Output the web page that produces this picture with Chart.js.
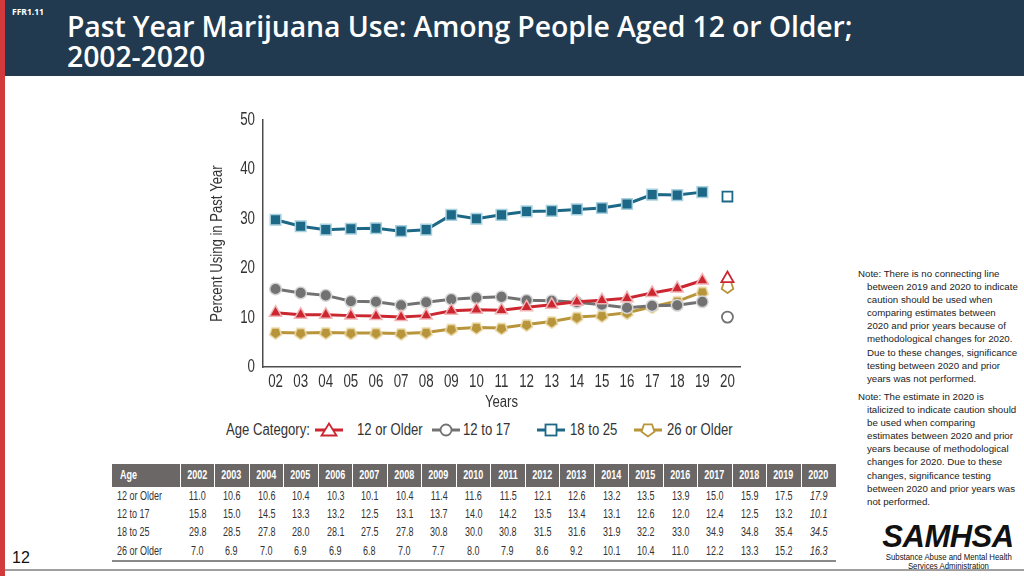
<!DOCTYPE html>
<html><head><meta charset="utf-8">
<script src="https://cdn.jsdelivr.net/npm/chart.js@4/dist/chart.umd.min.js"></script>
<style>
html,body{margin:0;padding:0;}
body{width:1024px;height:576px;position:relative;overflow:hidden;background:#fff;font-family:'Liberation Sans',Arial,sans-serif;}
#header{position:absolute;left:0;top:0;width:1024px;height:76px;background:#213a4f;}
#redbar{position:absolute;left:0;top:0;width:5px;height:576px;background:#d2393a;}
#ffr{position:absolute;left:12px;top:6px;color:#fff;font:700 8.5px 'Open Sans',sans-serif;}
#title{position:absolute;left:67px;top:11px;color:#fff;font:600 28.4px/30px 'Open Sans',sans-serif;white-space:nowrap;letter-spacing:-0.1px;}
#chartbox{position:absolute;left:200px;top:100px;width:560px;height:315px;}
.c{display:inline-block;transform:scaleX(0.82);transform-origin:left center;white-space:nowrap;}
.tc{display:inline-block;transform:scaleX(0.75);transform-origin:left center;white-space:nowrap;}
.tcc{display:inline-block;transform:scaleX(0.75);transform-origin:center center;white-space:nowrap;}
.cc{display:inline-block;transform:scaleX(0.82);transform-origin:center center;white-space:nowrap;}
#legend{position:absolute;left:0;top:420px;width:800px;height:20px;color:#333;font-size:16px;}
#legend .t{position:absolute;top:0;line-height:20px;}
#legend svg{position:absolute;top:2px;}
#tbl{position:absolute;left:112px;top:464px;border-collapse:collapse;table-layout:fixed;font-size:12px;color:#333;}
#tbl th{background:#6b6767;color:#fff;font-weight:700;height:22.5px;padding:0;text-align:center;border-left:1px solid #fff;}
#tbl th:first-child{text-align:left;padding-left:8px;border-left:none;}
#tbl td{height:18.4px;padding:0;text-align:center;}
#tbl td:first-child{text-align:left;padding-left:5px;}
#tbl td.it{font-style:italic;}
#tbl tr:last-child td{border-bottom:2px solid #8a8a8a;}
.note{position:absolute;left:858px;width:166px;font-size:9.7px;line-height:13.1px;color:#222;padding-left:9px;text-indent:-9px;white-space:nowrap;}
#pnum{position:absolute;left:12px;top:549px;font-size:16px;color:#111;}
#bline{position:absolute;left:5px;top:569px;width:1019px;height:2px;background:#a0a0a0;}
#logo{position:absolute;left:872px;top:521px;width:152px;text-align:center;color:#111;}
#logo .big{font:italic 700 31px/31px 'Liberation Sans',Arial,sans-serif;letter-spacing:-0.5px;}
#logo .sub{font-size:9.5px;line-height:9px;}
</style></head>
<body>
<div id="header"></div>
<div id="redbar"></div>
<div id="ffr">FFR1.11</div>
<div id="title">Past Year Marijuana Use: Among People Aged 12 or Older;<br>2002-2020</div>
<div id="chartbox"><canvas id="c" width="560" height="315"></canvas></div>
<div id="legend"></div>
<table id="tbl"></table>
<div class="note" style="top:267px">Note: There is no connecting line<br>between 2019 and 2020 to indicate<br>caution should be used when<br>comparing estimates between<br>2020 and prior years because of<br>methodological changes for 2020.<br>Due to these changes, significance<br>testing between 2020 and prior<br>years was not performed.</div>
<div class="note" style="top:390px">Note: The estimate in 2020 is<br>italicized to indicate caution should<br>be used when comparing<br>estimates between 2020 and prior<br>years because of methodological<br>changes for 2020. Due to these<br>changes, significance testing<br>between 2020 and prior years was<br>not performed.</div>
<div id="pnum">12</div>
<div id="bline"></div>
<div id="logo"><div class="big">SAMHSA</div><div class="sub"><span class="cc">Substance Abuse and Mental Health</span><br><span class="cc">Services Administration</span></div></div>
<script>
// ---- data ----
const yearLabels = ['02','03','04','05','06','07','08','09','10','11','12','13','14','15','16','17','18','19','20'];
const tableYears = ['2002','2003','2004','2005','2006','2007','2008','2009','2010','2011','2012','2013','2014','2015','2016','2017','2018','2019','2020'];
const seriesNames = ['12 or Older','12 to 17','18 to 25','26 or Older'];
const age12Older = [11.0,10.6,10.6,10.4,10.3,10.1,10.4,11.4,11.6,11.5,12.1,12.6,13.2,13.5,13.9,15.0,15.9,17.5,17.9];
const age12to17  = [15.8,15.0,14.5,13.3,13.2,12.5,13.1,13.7,14.0,14.2,13.5,13.4,13.1,12.6,12.0,12.4,12.5,13.2,10.1];
const age18to25  = [29.8,28.5,27.8,28.0,28.1,27.5,27.8,30.8,30.0,30.8,31.5,31.6,31.9,32.2,33.0,34.9,34.8,35.4,34.5];
const age26Older = [7.0,6.9,7.0,6.9,6.9,6.8,7.0,7.7,8.0,7.9,8.6,9.2,10.1,10.4,11.0,12.2,13.3,15.2,16.3];
const yTicks = [0,10,20,30,40,50];
const xTitle = 'Years';
const yTitle = 'Percent Using in Past Year';

const FONT = "'Liberation Sans', Arial, sans-serif";
const RED='#cc2631', GRAY='#727272', TEAL='#1c6886', GOLD='#b8953a';
const RED_L='#f1b3b5', GRAY_L='#d4d4d4', TEAL_L='#a9d2e0', GOLD_L='#ecdcae';

function pentagon(fill, stroke, lw, size){
  const c=document.createElement('canvas'); c.width=size; c.height=size;
  const x=c.getContext('2d'); const cx=size/2, cy=size/2+0.5, r=size/2-lw/2-0.5;
  x.beginPath();
  for(let i=0;i<5;i++){const a=Math.PI/2+i*2*Math.PI/5; const px=cx+r*Math.cos(a), py=cy+r*Math.sin(a); i?x.lineTo(px,py):x.moveTo(px,py);}
  x.closePath(); x.fillStyle=fill; x.fill(); x.lineWidth=lw; x.strokeStyle=stroke; x.stroke();
  return c;
}
const pentFilled = pentagon(GOLD, GOLD_L, 1.5, 15);
const pentHollow = pentagon('#fff', GOLD, 1.8, 15);

const last = yearLabels.length-1;
const upTo2019 = arr => arr.map((v,i)=> i<last ? v : null);
const only2020 = arr => arr.map((v,i)=> i===last ? v : null);

const specs = [
  {name:seriesNames[0], vals:age12Older, color:RED, light:RED_L, style:'triangle', r:7, hr:7, order:2},
  {name:seriesNames[1], vals:age12to17, color:GRAY, light:GRAY_L, style:'circle', r:5.8, hr:5.5, order:3},
  {name:seriesNames[2], vals:age18to25, color:TEAL, light:TEAL_L, style:'rect', r:7.5, hr:7, order:1},
  {name:seriesNames[3], vals:age26Older, color:GOLD, light:GOLD_L, style:'pent', r:7, hr:7, order:4},
];
const datasets=[];
specs.forEach(s=>{
  datasets.push({label:s.name, data:upTo2019(s.vals), borderColor:s.color, borderWidth:3,
    pointStyle: s.style==='pent'?pentFilled:s.style, pointRadius:s.r, pointBackgroundColor:s.color,
    pointBorderColor:s.light, pointBorderWidth:1.5, spanGaps:false, order:s.order});
  datasets.push({label:s.name+' 2020', data:only2020(s.vals), showLine:false,
    pointStyle: s.style==='pent'?pentHollow:s.style, pointRadius:s.hr, pointBackgroundColor:'#fff',
    pointBorderColor:s.color, pointBorderWidth:1.8, order:s.order});
});

// condensed axis text (labels taken from the scales)
const condensedText = {
  id:'condensedText',
  afterDraw(chart){
    const {ctx, scales:{x, y}} = chart;
    const put = (txt, px, py, size, sx, rot) => {
      ctx.save(); ctx.translate(px, py); if(rot) ctx.rotate(rot); ctx.scale(sx, 1);
      ctx.font = size + 'px ' + FONT; ctx.fillText(txt, 0, 0); ctx.restore();
    };
    ctx.save(); ctx.fillStyle = '#333';
    ctx.textAlign='center'; ctx.textBaseline='top';
    x.ticks.forEach((t,i)=> put(x.getLabelForValue(t.value), x.getPixelForTick(i), x.top+6, 18, 0.74));
    ctx.textAlign='right'; ctx.textBaseline='middle';
    y.ticks.forEach((t,i)=> put(String(t.value), y.right-8, y.getPixelForTick(i), 18, 0.74));
    ctx.textAlign='center'; ctx.textBaseline='middle';
    put(xTitle, (x.left+x.right)/2, x.bottom-12, 16, 0.82);
    put(yTitle, y.left+18, (y.top+y.bottom)/2, 16, 0.82, -Math.PI/2);
    ctx.restore();
  }
};

new Chart(document.getElementById('c'), {
  type:'line',
  data:{labels:yearLabels, datasets},
  options:{
    responsive:false, animation:false,
    layout:{padding:{top:20,right:20,left:0,bottom:0}},
    plugins:{legend:{display:false}, tooltip:{enabled:false}},
    scales:{
      x:{type:'category', offset:true, grid:{display:false, drawTicks:false},
         border:{color:'#4d4d4d', width:1.5},
         ticks:{display:false, autoSkip:false},
         afterFit(s){s.height=48;}},
      y:{min:0, max:50, grid:{display:false, drawTicks:false},
         border:{color:'#4d4d4d', width:1.5},
         afterBuildTicks(s){s.ticks = yTicks.map(v=>({value:v}));},
         ticks:{display:false},
         afterFit(s){s.width=63;}}
    }
  },
  plugins:[condensedText]
});

// ---- legend ----
const lg=document.getElementById('legend');
function addText(x,txt){const d=document.createElement('div');d.className='t';d.style.left=x+'px';d.innerHTML='<span class="c"></span>';d.firstChild.textContent=txt;lg.appendChild(d);}
addText(226,'Age Category:');
const legendPos=[{icon:315,text:357},{icon:432,text:463},{icon:537,text:570},{icon:634,text:667}];
const markerSvg = [
  c=>`<polygon points="14,1.5 21.5,13.5 6.5,13.5" fill="#fff" stroke="${c}" stroke-width="1.8"/>`,
  c=>`<circle cx="14" cy="8" r="5.5" fill="#fff" stroke="${c}" stroke-width="1.8"/>`,
  c=>`<rect x="8.5" y="2.5" width="11" height="11" fill="#fff" stroke="${c}" stroke-width="1.8"/>`,
  c=>`<polygon points="14,14.5 7.5,9.7 10,2.3 18,2.3 20.5,9.7" fill="#fff" stroke="${c}" stroke-width="1.8"/>`
];
specs.forEach((s,i)=>{
  const svg=`<svg width="28" height="16" style="left:${legendPos[i].icon}px"><line x1="0" y1="8" x2="28" y2="8" stroke="${s.color}" stroke-width="3"/>${markerSvg[i](s.color)}</svg>`;
  lg.insertAdjacentHTML('beforeend', svg);
  addText(legendPos[i].text, s.name);
});

// ---- table ----
const tbl=document.getElementById('tbl');
let html='<colgroup><col style="width:68px">'+tableYears.map(()=>'<col style="width:34.5px">').join('')+'</colgroup>';
html+='<tr><th><span class="tc">Age</span></th>'+tableYears.map(y=>`<th><span class="tcc">${y}</span></th>`).join('')+'</tr>';
specs.forEach(s=>{
  html+='<tr><td><span class="tc">'+s.name+'</span></td>'+s.vals.map((v,i)=>`<td${i===last?' class="it"':''}><span class="tcc">${v.toFixed(1)}</span></td>`).join('')+'</tr>';
});
tbl.innerHTML=html;
</script>
</body></html>
